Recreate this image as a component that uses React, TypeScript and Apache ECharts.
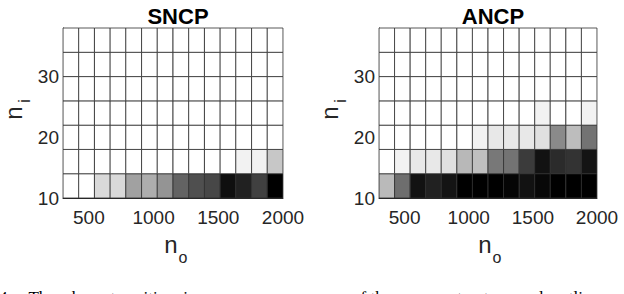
import React, { useEffect, useRef } from 'react';
import * as echarts from 'echarts';

// n_o cell centres (columns) and n_i cell centres (rows)
const noCenters = [361, 482, 604, 725, 846, 968, 1089, 1211, 1332, 1454, 1575, 1696, 1818, 1939];
const noCellWidth = 121.4;
const niCenters = [12, 16, 20, 24, 28, 32, 36];
const niCellHeight = 4;
const noTicks = [500, 1000, 1500, 2000];
const niTicks = [10, 20, 30];

// grey level of each cell (1 = white, 0 = black), one array per n_i row
const sncpRow12 = [1, 1, 0.85, 0.85, 0.63, 0.68, 0.58, 0.39, 0.31, 0.28, 0.06, 0.13, 0.25, 0.0];
const sncpRow16 = [1, 1, 1, 1, 1, 1, 1, 1, 1, 1, 1, 0.95, 0.95, 0.78];
const sncpRow20 = [1, 1, 1, 1, 1, 1, 1, 1, 1, 1, 1, 1, 1, 1];
const sncpRow24 = [1, 1, 1, 1, 1, 1, 1, 1, 1, 1, 1, 1, 1, 1];
const sncpRow28 = [1, 1, 1, 1, 1, 1, 1, 1, 1, 1, 1, 1, 1, 1];
const sncpRow32 = [1, 1, 1, 1, 1, 1, 1, 1, 1, 1, 1, 1, 1, 1];
const sncpRow36 = [1, 1, 1, 1, 1, 1, 1, 1, 1, 1, 1, 1, 1, 1];

const ancpRow12 = [0.73, 0.43, 0.07, 0.13, 0.08, 0, 0, 0, 0.02, 0.07, 0.03, 0, 0, 0];
const ancpRow16 = [1, 0.95, 0.91, 0.91, 0.88, 0.72, 0.75, 0.47, 0.45, 0.23, 0.07, 0.17, 0.2, 0.08];
const ancpRow20 = [1, 1, 1, 1, 1, 1, 0.95, 0.91, 0.91, 0.91, 0.88, 0.54, 0.74, 0.45];
const ancpRow24 = [1, 1, 1, 1, 1, 1, 1, 1, 1, 1, 0.95, 1, 1, 0.95];
const ancpRow28 = [1, 1, 1, 1, 1, 1, 1, 1, 1, 1, 1, 1, 1, 1];
const ancpRow32 = [1, 1, 1, 1, 1, 1, 1, 1, 1, 1, 1, 1, 1, 1];
const ancpRow36 = [1, 1, 1, 1, 1, 1, 1, 1, 1, 1, 1, 1, 1, 1];

const sncpRows = [sncpRow12, sncpRow16, sncpRow20, sncpRow24, sncpRow28, sncpRow32, sncpRow36];
const ancpRows = [ancpRow12, ancpRow16, ancpRow20, ancpRow24, ancpRow28, ancpRow32, ancpRow36];

const toCells = (rows: number[][]) => {
  const out: number[][] = [];
  rows.forEach((row, r) => {
    row.forEach((v, c) => {
      out.push([noCenters[c], niCenters[r], v]);
    });
  });
  return out;
};

const renderCell = (_params: any, api: any) => {
  const x = api.value(0);
  const y = api.value(1);
  const v = api.value(2);
  const p0 = api.coord([x - noCellWidth / 2, y + niCellHeight / 2]);
  const p1 = api.coord([x + noCellWidth / 2, y - niCellHeight / 2]);
  const g = Math.round(v * 255);
  return {
    type: 'rect',
    shape: { x: p0[0], y: p0[1], width: p1[0] - p0[0], height: p1[1] - p0[1] },
    style: { fill: `rgb(${g},${g},${g})`, stroke: '#2e2e2e', lineWidth: 0.8 },
  };
};

const FONT = 'Liberation Sans, Arial, sans-serif';
const SERIF = 'Liberation Serif, Times New Roman, serif';

const xAxisFor = (gridIndex: number) => ({
  type: 'value',
  gridIndex,
  min: 300,
  max: 2000,
  axisLine: { show: true, lineStyle: { color: '#262626', width: 1 } },
  axisTick: { show: false },
  splitLine: { show: false },
  axisLabel: {
    customValues: noTicks, fontSize: 19, color: '#262626', fontFamily: FONT, margin: 10,
    formatter: (v: number) => String(v),
  },
});

const yAxisFor = (gridIndex: number) => ({
  type: 'value',
  gridIndex,
  min: 10,
  max: 38,
  axisLine: { show: true, lineStyle: { color: '#262626', width: 1 } },
  axisTick: { show: false },
  splitLine: { show: false },
  axisLabel: {
    customValues: niTicks, fontSize: 19, color: '#262626', fontFamily: FONT, margin: 4,
    formatter: (v: number) => String(v),
  },
});

const axisNameTexts = (offsetX: number, cx: number) => [
  // y-axis name n_i (rotated)
  { type: 'text', x: offsetX + 13, y: 113, rotation: Math.PI / 2,
    style: { text: 'n', fontSize: 24, fontFamily: FONT, fill: '#262626', align: 'center', verticalAlign: 'middle' } },
  { type: 'text', x: offsetX + 24, y: 101, rotation: Math.PI / 2,
    style: { text: 'i', fontSize: 16, fontFamily: FONT, fill: '#262626', align: 'center', verticalAlign: 'middle' } },
  // x-axis name n_o
  { type: 'text', x: cx - 4, y: 244,
    style: { text: 'n', fontSize: 24, fontFamily: FONT, fill: '#262626', align: 'center', verticalAlign: 'middle' } },
  { type: 'text', x: cx + 8, y: 257,
    style: { text: 'o', fontSize: 16, fontFamily: FONT, fill: '#262626', align: 'center', verticalAlign: 'middle' } },
];

export default function App() {
  const ref = useRef<HTMLDivElement>(null);
  useEffect(() => {
    if (!ref.current) return;
    const chart = echarts.init(ref.current, undefined, { renderer: 'svg' });
    chart.setOption({
      animation: false,
      backgroundColor: '#ffffff',
      title: [
        { text: 'SNCP', left: 173, top: 0, textAlign: 'center',
          textStyle: { fontSize: 22, fontWeight: 'bold', fontFamily: FONT, color: '#000' } },
        { text: 'ANCP', left: 488, top: 0, textAlign: 'center',
          textStyle: { fontSize: 22, fontWeight: 'bold', fontFamily: FONT, color: '#000' } },
      ],
      grid: [
        { left: 63, top: 28, width: 220, height: 170 },
        { left: 379, top: 28, width: 218, height: 170 },
      ],
      xAxis: [xAxisFor(0), xAxisFor(1)],
      yAxis: [yAxisFor(0), yAxisFor(1)],
      series: [
        { type: 'custom', name: 'SNCP', xAxisIndex: 0, yAxisIndex: 0, renderItem: renderCell,
          encode: { x: 0, y: 1 }, data: toCells(sncpRows), z: 1 },
        { type: 'custom', name: 'ANCP', xAxisIndex: 1, yAxisIndex: 1, renderItem: renderCell,
          encode: { x: 0, y: 1 }, data: toCells(ancpRows), z: 1 },
      ],
      graphic: [
        ...axisNameTexts(0, 175),
        ...axisNameTexts(316, 489),
        { type: 'text', x: -1, y: 288.5,
          style: { text: '4.    The  phase  transition  in', fontSize: 17, fontFamily: SERIF, fill: '#000', verticalAlign: 'top' } },
        { type: 'text', x: 352, y: 288.5,
          style: { text: 'of the  sparse  structure  and  outliers', fontSize: 17, fontFamily: SERIF, fill: '#000', verticalAlign: 'top' } },
      ],
    });
    return () => chart.dispose();
  }, []);
  return (
    <div
      ref={ref}
      style={{ position: 'fixed', left: 0, top: 0, width: 624, height: 294, background: '#fff' }}
    />
  );
}
